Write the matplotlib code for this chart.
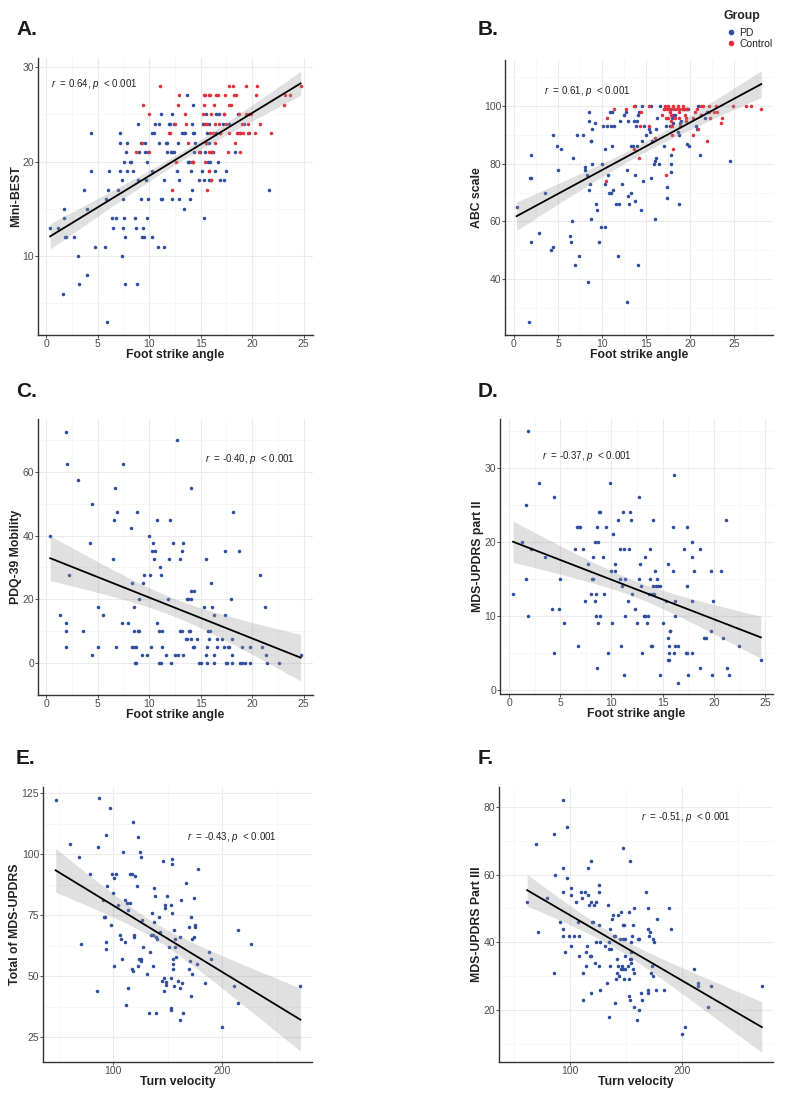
import numpy as np
import matplotlib
matplotlib.use("Agg")
from matplotlib import pyplot as plt
from matplotlib.lines import Line2D
from matplotlib.ticker import MultipleLocator

plt.rcParams['font.family'] = ['Liberation Sans', 'DejaVu Sans']
plt.rcParams['mathtext.fontset'] = 'custom'
plt.rcParams['mathtext.it'] = 'Liberation Sans:italic'
plt.rcParams['mathtext.rm'] = 'Liberation Sans'

AZUL = "#2F4E9E"
ROJO = "#E3313C"

# A. Mini-BEST vs foot strike angle
a_pd_x = [0.4, 1.2, 1.7, 1.7, 1.8, 1.9, 1.6, 2.7, 3.1, 3.2, 3.7, 4.0, 4.0, 4.4, 4.4, 4.8, 5.7, 5.8, 6.0, 6.1,
          5.9, 6.4, 6.5, 6.8, 7.0, 7.2, 7.2, 7.2, 7.4, 7.5, 7.5, 7.4, 7.6, 7.6, 7.7, 7.7, 7.8, 7.9, 7.9, 8.1,
          8.2, 8.4, 8.6, 8.7, 8.8, 8.9, 8.9, 9.0, 9.2, 9.2, 9.3, 9.4, 9.5, 9.6, 9.6, 9.8, 9.7, 9.8, 9.9, 9.9,
          10.3, 10.3, 10.3, 10.5, 10.6, 10.9, 11.0, 11.0, 11.2, 11.3, 11.4, 11.2, 11.4, 11.6, 11.7, 11.7, 11.9,
          12.0, 12.1, 12.2, 12.2, 12.4, 12.2, 12.4, 12.7, 12.8, 12.9, 12.9, 13.2, 13.4, 13.4, 13.5, 13.7, 13.8,
          13.9, 14.1, 14.0, 14.2, 14.2, 14.3, 14.3, 14.4, 14.3, 14.4, 14.5, 14.8, 14.9, 15.1, 15.2, 15.3, 15.3,
          15.4, 15.5, 15.5, 15.6, 15.8, 15.8, 15.7, 15.8, 15.8, 15.9, 16.0, 16.2, 16.4, 16.5, 16.5, 16.7, 16.8,
          16.9, 16.9, 17.2, 17.3, 17.3, 17.5, 17.8, 18.3, 18.6, 18.6, 18.8, 19.2, 19.7, 21.6]
a_pd_y = [13, 13, 14, 15, 12, 12, 6, 12, 10, 7, 17, 15, 8, 23, 19, 11, 11, 16, 17, 19,
          3, 14, 13, 14, 17, 23, 22, 19, 18, 16, 13, 10, 20, 14, 12, 7, 21, 22, 19, 20,
          20, 19, 14, 13, 7, 24, 18, 21, 16, 22, 12, 13, 12, 21, 22, 20, 18, 14, 21, 16,
          23, 19, 12, 23, 24, 11, 22, 24, 16, 16, 11, 25, 18, 22, 21, 22, 24,
          24, 21, 16, 25, 24, 21, 21, 19, 22, 18, 16, 23, 15, 23, 23, 27, 20,
          20, 19, 16, 24, 17, 23, 26, 23, 20, 21, 22, 18, 21, 19, 24, 14, 18,
          21, 22, 25, 23, 24, 22, 20, 18, 19, 20, 18, 21, 19, 25, 23, 20, 25,
          18, 23, 24, 18, 25, 19, 24, 21, 25, 23, 23, 24, 23, 17]
a_ct_x = [8.7, 9.4, 9.3, 10.0, 10.0, 11.1, 11.9, 12.0, 12.2, 12.5, 12.6, 12.8, 12.9, 13.5, 13.6, 13.8, 14.2,
          14.3, 14.8, 15.2, 15.3, 15.4, 15.3, 15.4, 15.5, 15.4, 15.6, 15.6, 15.8, 15.9, 15.8, 15.9, 15.8, 16.0,
          16.0, 16.1, 16.2, 16.0, 16.3, 16.4, 16.4, 16.5, 16.7, 16.8, 16.9, 17.3, 17.4, 17.5, 17.7, 17.8, 17.8,
          17.9, 17.8, 18.1, 18.2, 18.4, 18.3, 18.5, 18.7, 18.8, 18.8, 19.0, 19.1, 19.4, 19.4, 19.6, 19.6, 19.7,
          19.9, 20.3, 20.4, 20.5, 20.8, 21.8, 23.1, 23.2, 23.7, 24.7]
a_ct_y = [21, 26, 22, 25, 21, 28, 23, 23, 17, 24, 20, 26, 27, 25, 24, 22, 20,
          20, 21, 25, 27, 27, 26, 24, 22, 20, 17, 24, 27, 27, 21, 23, 19, 25,
          21, 21, 23, 18, 26, 22, 24, 27, 27, 24, 23, 25, 27, 24, 21, 28, 26,
          26, 23, 28, 27, 27, 22, 23, 25, 23, 21, 24, 23, 28, 25, 24, 23, 25,
          25, 23, 27, 28, 24, 23, 26, 27, 27, 28]

# B. ABC scale vs foot strike angle
b_pd_x = [0.3, 1.8, 1.9, 1.9, 1.9, 1.7, 2.9, 3.5, 4.2, 4.4, 4.4, 4.9, 5.0, 5.4, 6.4, 6.5, 6.6, 6.7, 6.9, 7.2,
          7.4, 7.9, 8.1, 8.1, 8.3, 8.4, 8.5, 8.5, 8.5, 8.6, 8.7, 8.8, 8.7, 8.9, 8.9, 9.2, 9.3, 9.4, 9.7, 9.9,
          10.0, 10.1, 10.3, 10.4, 10.4, 10.6, 10.7, 10.8, 10.9, 11.0, 11.0, 11.1, 11.1, 11.3, 11.4, 11.6, 11.8,
          11.9, 12.0, 12.3, 12.5, 12.7, 12.8, 12.8, 13.0, 13.0, 13.1, 13.3, 13.3, 13.5, 13.6, 13.7, 13.8, 13.8,
          13.9, 14.0, 14.0, 14.1, 14.1, 14.2, 14.4, 14.6, 14.6, 14.7, 14.8, 15.0, 15.4, 15.5, 15.6, 15.6, 15.7,
          15.9, 16.0, 16.0, 16.1, 16.1, 16.2, 16.5, 16.6, 17.1, 17.3, 17.4, 17.4, 17.7, 17.9, 17.9, 17.9, 18.0,
          18.1, 18.1, 18.3, 18.6, 18.8, 18.8, 18.9, 19.0, 19.2, 19.3, 19.7, 19.7, 19.8, 19.9, 20.7, 20.8, 20.9,
          21.1, 21.2, 21.7, 21.9, 24.6]
b_pd_y = [65, 75, 75, 83, 53, 25, 56, 70, 50, 51, 90, 86, 78, 85, 55, 53, 60, 82, 45, 90,
          48, 90, 79, 78, 76, 39, 71, 98, 95, 73, 88, 88, 61, 92, 80, 94, 66, 64, 53, 58,
          80, 93, 73, 58, 85, 93, 76, 70, 98, 70, 93, 98, 86, 71, 93, 66, 48,
          66, 95, 73, 97, 98, 32, 78, 69, 95, 66, 70, 86, 86, 95, 67, 100, 76,
          93, 95, 86, 45, 97, 98, 64, 88, 100, 74, 93, 90, 92, 91, 75, 100, 88,
          80, 81, 61, 82, 92, 96, 80, 100, 86, 93, 72, 68, 93, 83, 80, 77, 96,
          97, 94, 97, 91, 90, 66, 94, 95, 99, 99, 99, 87, 99, 86, 93, 92, 100,
          83, 97, 96, 98, 81]
b_ct_x = [10.6, 10.5, 11.4, 12.7, 13.6, 13.6, 14.3, 14.2, 14.4, 15.4, 15.4, 16.0, 16.8, 17.0, 17.2, 17.1,
          17.3, 17.3, 17.4, 17.5, 17.6, 17.7, 17.8, 17.5, 17.8, 17.8, 17.9, 18.0, 18.0, 18.1, 18.2, 18.1, 18.3,
          18.4, 18.6, 18.7, 18.8, 18.8, 18.9, 19.1, 19.2, 19.4, 19.4, 19.5, 19.6, 19.7, 20.4, 20.4, 20.6, 20.8,
          20.9, 21.3, 21.3, 21.5, 21.9, 22.2, 22.2, 22.3, 22.7, 23.0, 23.1, 23.5, 23.6, 24.9, 26.4, 26.9, 28.1]
b_ct_y = [96, 74, 99, 99, 100, 85, 93, 82, 98, 100, 93, 89, 97, 99, 100, 99,
          96, 76, 99, 100, 99, 98, 97, 96, 95, 93, 99, 93, 90, 85, 99, 100, 96,
          99, 100, 96, 99, 98, 93, 99, 100, 99, 97, 95, 96, 99, 90, 96, 98, 99,
          92, 100, 97, 100, 88, 100, 98, 96, 98, 100, 98, 94, 96, 100, 100, 100, 99]

# C. PDQ-39 mobility vs foot strike angle
c_x = [1.9, 2.0, 3.1, 0.4, 2.2, 1.4, 1.9, 1.9, 1.9, 3.6, 4.3, 4.5, 4.5, 5.0, 5.0, 5.5, 6.5, 6.6, 6.7, 6.8,
       6.9, 7.4, 7.5, 8.0, 8.2, 8.3, 8.3, 8.5, 8.5, 8.5, 8.6, 8.7, 8.7, 8.8, 8.9, 9.0, 9.0, 9.3, 9.4, 9.5,
       9.8, 10.0, 10.1, 10.2, 10.3, 10.4, 10.5, 10.6, 10.8, 10.8, 11.0, 11.0, 11.1, 11.2, 11.2, 11.3, 11.3,
       11.6, 11.8, 11.9, 12.0, 12.1, 12.3, 12.5, 12.7, 12.8, 13.0, 13.0, 13.2, 13.2, 13.3, 13.3, 13.6, 13.7,
       13.7, 13.8, 13.9, 14.0, 14.1, 14.1, 14.1, 14.1, 14.3, 14.4, 14.4, 14.6, 14.8, 15.0, 15.3, 15.5, 15.5,
       15.6, 15.6, 15.7, 15.8, 15.9, 16.0, 16.1, 16.3, 16.3, 16.3, 16.6, 16.6, 17.1, 17.3, 17.4, 17.4, 17.5,
       17.6, 17.7, 17.8, 17.9, 18.0, 18.0, 18.0, 18.1, 18.7, 18.8, 19.0, 19.0, 19.3, 19.8, 19.8, 20.8, 21.0,
       21.2, 21.3, 21.4, 22.6, 24.7]
c_y = [72.5, 62.5, 57.5, 40, 27.5, 15, 12.5, 10, 5, 10, 37.5, 50, 2.5, 17.5, 5, 15, 32.5, 45, 55, 5,
       47.5, 12.5, 62.5, 12.5, 42.5, 25, 5, 17.5, 5, 10, 0, 5, 0, 47.5, 10, 20, 10, 2.5, 25, 27.5,
       2.5, 40, 27.5, 5, 35, 37.5, 32.5, 35, 45, 12.5, 10, 0, 30, 27.5, 0, 10, 5,
       2.5, 20, 32.5, 45, 0, 37.5, 2.5, 70, 2.5, 32.5, 10, 10, 35, 37.5, 2.5, 7.5, 20,
       7.5, 20, 10, 10, 20, 7.5, 55, 22.5, 5, 5, 22.5, 7.5, 0, 0, 17.5, 2.5, 32.5,
       5, 0, 10, 7.5, 10, 25, 17.5, 15, 2.5, 0, 7.5, 5, 7.5, 5, 35, 15, 0,
       0, 5, 5, 20, 7.5, 2.5, 0, 47.5, 35, 0, 5, 0, 0, 5, 0, 27.5, 5,
       17.5, 2.5, 0, 0, 2.5]

# D. MDS-UPDRS part II vs foot strike angle
d_x = [1.9, 0.4, 1.3, 1.7, 1.7, 1.9, 2.1, 2.9, 3.5, 4.2,
       4.4, 4.4, 4.9, 5.0, 5.4, 6.4, 6.6, 6.8, 6.9, 6.7,
       7.2, 7.4, 7.7, 8.0, 8.1, 8.2, 8.2, 8.4, 8.4, 8.5,
       8.5, 8.6, 8.6, 8.7, 8.7, 8.8, 8.9, 8.9, 9.2, 9.3,
       9.5, 9.7, 9.9, 10.0, 10.1, 10.2, 10.4, 10.4, 10.6, 10.8,
       10.8, 10.9, 11.0, 11.1, 11.2, 11.2, 11.3, 11.3, 11.6, 11.7,
       11.8, 11.9, 12.0, 12.3, 12.5, 12.7, 12.7, 12.8, 12.9, 13.0,
       13.2, 13.3, 13.3, 13.5, 13.6, 13.7, 13.8, 13.8, 13.9, 14.0,
       14.0, 14.1, 14.1, 14.2, 14.3, 14.4, 14.5, 14.6, 14.7, 14.7,
       15.0, 15.3, 15.5, 15.5, 15.5, 15.6, 15.6, 15.6, 15.7, 15.7,
       16.0, 16.0, 16.1, 16.1, 16.2, 16.2, 16.2, 16.5, 16.5, 17.1,
       17.3, 17.4, 17.4, 17.4, 17.5, 17.9, 17.9, 17.9, 17.9, 18.1,
       18.7, 18.7, 19.0, 19.2, 19.7, 19.7, 19.8, 19.9, 20.7, 20.9,
       21.2, 21.3, 21.5, 22.5, 24.6]
d_y = [35, 13, 20, 25, 15, 10, 19, 28, 18, 11,
       26, 5, 11, 15, 9, 19, 22, 22, 22, 6,
       19, 12, 17, 13, 15, 15, 18, 20, 12, 13,
       10, 3, 22, 20, 9, 24, 24, 10, 18, 13,
       22, 5, 28, 16, 9, 21, 16, 17, 23, 19,
       15, 6, 14, 24, 19, 2, 15, 10, 12, 19,
       24, 23, 13, 11, 9, 26, 15, 17, 14, 5,
       10, 18, 10, 9, 10, 13, 19, 15, 6, 6,
       13, 23, 14, 13, 16, 14, 15, 14, 14, 2,
       9, 12, 7, 17, 4, 4, 6, 5, 8, 8,
       22, 16, 5, 29, 12, 10, 6, 6, 1, 19,
       5, 5, 22, 14, 2, 20, 18, 12, 5, 16,
       19, 3, 7, 7, 8, 16, 2, 12, 16, 7,
       23, 3, 2, 6, 4]

# E. Total MDS-UPDRS vs turn velocity
e_x = [47.4, 60.9, 68.8, 70.3, 79.2, 85.0, 86.2, 86.9, 90.5, 91.4, 92.9, 93.3, 93.3, 93.9, 94.8, 96.9, 98.5,
       99.4, 100.3, 100.6, 100.6, 103.1, 104.6, 106.1, 107.3, 108.0, 109.2, 110.7, 110.7, 111.9, 113.1, 113.5,
       113.5, 115.9, 115.9, 117.4, 117.4, 118.3, 118.3, 119.3, 119.6, 120.2, 121.7, 122.6, 122.9, 123.5, 124.8,
       125.4, 125.7, 126.0, 126.6, 127.5, 131.2, 132.7, 134.3, 134.9, 135.5, 136.4, 137.0, 137.3, 137.6, 138.2,
       139.1, 139.8, 140.1, 142.2, 142.8, 145.3, 145.6, 146.5, 146.8, 147.4, 148.0, 148.6, 148.9, 149.8, 151.4,
       152.9, 153.5, 153.5, 153.5, 154.1, 154.4, 154.4, 154.7, 155.0, 155.0, 156.0, 156.3, 156.6, 157.2, 157.8,
       159.3, 161.2, 161.8, 161.8, 162.4, 163.6, 164.2, 167.3, 169.7, 169.7, 170.9, 171.6, 171.9, 172.5, 172.8,
       174.0, 174.6, 174.9, 174.9, 177.1, 178.0, 184.1, 188.4, 190.2, 200.3, 210.7, 214.4, 215.0, 226.6, 271.9]
e_y = [122, 104, 99, 63, 92, 44, 103, 123, 81, 74, 74, 108, 64, 61, 87, 119, 71,
       92, 84, 90, 54, 92, 79, 67, 65, 57, 101, 81, 64, 38, 80, 77,
       45, 80, 92, 92, 53, 113, 52, 66, 67, 91, 87, 54, 107, 57, 101,
       99, 57, 56, 73, 62, 51, 35, 60, 67, 76, 54, 67, 86, 72, 83,
       66, 35, 65, 74, 68, 48, 97, 44, 49, 79, 78, 47.5, 46.5, 83, 62,
       79, 37, 36, 49, 96, 98, 76, 57, 55, 53, 69, 46, 62, 65, 58,
       48, 66, 45, 32, 81, 47, 35, 88, 70, 53, 56, 74, 42, 51, 65,
       82, 66, 71, 70, 55, 94, 47, 60, 57, 29, 46, 39, 69, 63, 46]

# F. MDS-UPDRS part III vs turn velocity
f_x = [61.8, 69.3, 71.3, 79.4, 85.7, 85.7, 86.9, 90.7, 93.4, 93.4, 94.0, 94.0, 94.0, 95.5, 97.3, 97.6, 99.4,
       100.6, 100.9, 101.2, 103.6, 105.1, 106.9, 107.8, 108.4, 110.1, 111.0, 111.3, 111.9, 113.1, 114.0, 114.6,
       115.5, 116.1, 116.4, 117.3, 117.6, 118.5, 118.5, 119.1, 119.1, 119.7, 120.6, 121.8, 122.4, 123.0, 123.6,
       126.0, 126.0, 126.3, 126.3, 126.9, 127.2, 131.6, 132.8, 134.0, 134.6, 134.9, 135.8, 136.1, 136.4, 135.2,
       137.3, 138.2, 139.1, 140.0, 140.3, 141.2, 141.8, 142.1, 142.7, 143.3, 144.2, 144.8, 145.4, 146.0, 146.6,
       147.2, 147.2, 147.8, 147.8, 148.4, 148.7, 149.0, 149.0, 149.6, 151.9, 152.5, 153.1, 153.1, 153.4, 153.7,
       153.7, 154.3, 154.3, 154.9, 154.9, 155.2, 156.1, 156.4, 157.0, 157.6, 157.6, 159.7, 160.6, 161.5, 162.1,
       163.3, 163.9, 167.5, 169.3, 169.6, 169.9, 170.1, 171.0, 171.6, 172.2, 173.4, 174.3, 174.6, 174.9, 177.3,
       177.0, 184.2, 188.1, 190.1, 200.0, 202.4, 210.4, 214.0, 214.6, 223.6, 226.3, 271.3]
f_y = [52, 69, 43, 53, 72, 31, 60, 46, 82, 62, 55, 44, 42, 37, 74, 59, 42,
       54, 56, 39, 42, 52, 46, 36, 42, 55, 53, 31, 23, 55, 37, 33,
       39, 54, 62, 51, 36, 64, 25, 36, 52, 46, 46, 51, 34, 52, 40,
       55, 57, 45, 33, 26, 40, 39, 28, 51, 38, 40, 44, 33, 38, 18,
       47, 48, 42, 42, 22, 29, 35, 31, 48, 33, 30, 41, 49, 32, 33,
       68, 45, 41, 32, 45, 29, 41, 32, 36, 33, 49, 29, 24, 64, 35,
       23, 40, 35, 34, 37, 42, 45, 32, 21, 31, 50, 17, 41, 41, 20,
       25, 23, 55, 50, 25, 26, 44, 42, 43, 31, 33, 30, 41, 40, 47,
       26, 26, 50, 44, 13, 15, 32, 28, 27, 21, 27, 27]

textos_r = ["0.64", "0.61", "-0.40", "-0.37", "-0.43", "-0.51"]


def ajuste(x, y):
    # recta de minimos cuadrados con banda de confianza 95%
    x = np.asarray(x, float)
    y = np.asarray(y, float)
    n = len(x)
    b, a = np.polyfit(x, y, 1)
    res = y - (a + b * x)
    s = np.sqrt(np.sum(res ** 2) / (n - 2))
    sxx = np.sum((x - x.mean()) ** 2)
    xs = np.linspace(x.min(), x.max(), 100)
    ys = a + b * xs
    se = s * np.sqrt(1.0 / n + (xs - x.mean()) ** 2 / sxx)
    return xs, ys, ys - 1.97 * se, ys + 1.97 * se


def panel(ax, grupos, xlim, ylim, xmaj, ymaj, xlab, ylab, rtxt, rpos):
    ax.set_xlim(xlim)
    ax.set_ylim(ylim)
    ax.xaxis.set_major_locator(MultipleLocator(xmaj))
    ax.xaxis.set_minor_locator(MultipleLocator(xmaj / 2))
    ax.yaxis.set_major_locator(MultipleLocator(ymaj))
    ax.yaxis.set_minor_locator(MultipleLocator(ymaj / 2))
    ax.grid(True, which="major", color="#EBEBEB", lw=0.8)
    ax.grid(True, which="minor", color="#F4F4F4", lw=0.5)
    ax.set_axisbelow(True)
    for lado in ["top", "right"]:
        ax.spines[lado].set_visible(False)
    for lado in ["left", "bottom"]:
        ax.spines[lado].set_color("#333333")
        ax.spines[lado].set_linewidth(1.0)
    ax.tick_params(which="major", length=2.2, width=0.6, color="#333333",
                   labelsize=7.5, labelcolor="#4D4D4D", pad=0.6)
    ax.tick_params(which="minor", length=0)
    todos_x, todos_y = [], []
    for gx, gy, col in grupos:
        ax.scatter(gx, gy, s=6.5, color=col, linewidths=0, zorder=2)
        todos_x += list(gx)
        todos_y += list(gy)
    xs, ys, lo, hi = ajuste(todos_x, todos_y)
    ax.fill_between(xs, lo, hi, color="#999999", alpha=0.3, lw=0, zorder=3)
    ax.plot(xs, ys, color="black", lw=1.3, zorder=4)
    ax.text(rpos[0], rpos[1], "$r$  = " + rtxt + ", $p$  < 0.001", fontsize=7.0,
            color="#222222", ha="left", va="center", zorder=5)
    ax.set_xlabel(xlab, fontsize=8.8, fontweight="bold", labelpad=0.3, color="#222222")
    ax.set_ylabel(ylab, fontsize=8.8, fontweight="bold", labelpad=0.2, color="#222222")


fig = plt.figure(figsize=(7.91, 11.01), dpi=100)

axA = fig.add_axes([0.048, 0.6957, 0.3477, 0.2516])
axB = fig.add_axes([0.6384, 0.6957, 0.3388, 0.2498])
axC = fig.add_axes([0.048, 0.3688, 0.3477, 0.2507])
axD = fig.add_axes([0.6321, 0.3697, 0.3451, 0.2498])
axE = fig.add_axes([0.0544, 0.0354, 0.3401, 0.2498])
axF = fig.add_axes([0.6308, 0.0354, 0.3464, 0.2498])

panel(axA, [(a_pd_x, a_pd_y, AZUL), (a_ct_x, a_ct_y, ROJO)], (-0.78, 25.9), (1.64, 30.95), 5, 10,
      "Foot strike angle", "Mini-BEST", textos_r[0], (0.48, 28.2))
panel(axB, [(b_pd_x, b_pd_y, AZUL), (b_ct_x, b_ct_y, ROJO)], (-1.02, 29.43), (20.6, 116), 5, 20,
      "Foot strike angle", "ABC scale", textos_r[1], (3.4, 105.3))
panel(axC, [(c_x, c_y, AZUL)], (-0.78, 25.9), (-10.05, 76.6), 5, 20,
      "Foot strike angle", "PDQ-39 Mobility", textos_r[2], (15.4, 64.0))
panel(axD, [(d_x, d_y, AZUL)], (-0.88, 25.78), (-0.54, 36.6), 5, 10,
      "Foot strike angle", "MDS-UPDRS part II", textos_r[3], (3.19, 31.6))
panel(axE, [(e_x, e_y, AZUL)], (35.8, 282.6), (14.75, 127.5), 100, 25,
      "Turn velocity", "Total of MDS-UPDRS", textos_r[4], (167.6, 106.8))
panel(axF, [(f_x, f_y, AZUL)], (36.6, 281.3), (4.6, 85.9), 100, 20,
      "Turn velocity", "MDS-UPDRS Part III", textos_r[5], (163.1, 77.1))

# letras de los paneles
letras = ["A.", "B.", "C.", "D.", "E.", "F."]
for i, letra in enumerate(letras):
    px = 16 if i % 2 == 0 else 478
    py = [20, 382, 749][i // 2]
    fig.text(px / 791, 1 - py / 1101, letra, fontsize=15, fontweight="bold",
             ha="left", va="top", color="#1A1A1A")

# leyenda de grupos
fig.text(724 / 791, 1 - 10 / 1101, "Group", fontsize=8.8, fontweight="bold",
         ha="left", va="top", color="#222222")
marcas = [Line2D([], [], ls="", marker="o", ms=3, color=AZUL),
          Line2D([], [], ls="", marker="o", ms=3, color=ROJO)]
leg = fig.legend(marcas, ["PD", "Control"], loc="upper left",
                 bbox_to_anchor=(727 / 791, 1 - 28 / 1101), frameon=False, fontsize=7.5,
                 handlelength=0.8, handletextpad=0.4, labelspacing=0.05,
                 borderaxespad=0, borderpad=0, labelcolor="#222222")

fig.savefig("out.png", dpi=100)
